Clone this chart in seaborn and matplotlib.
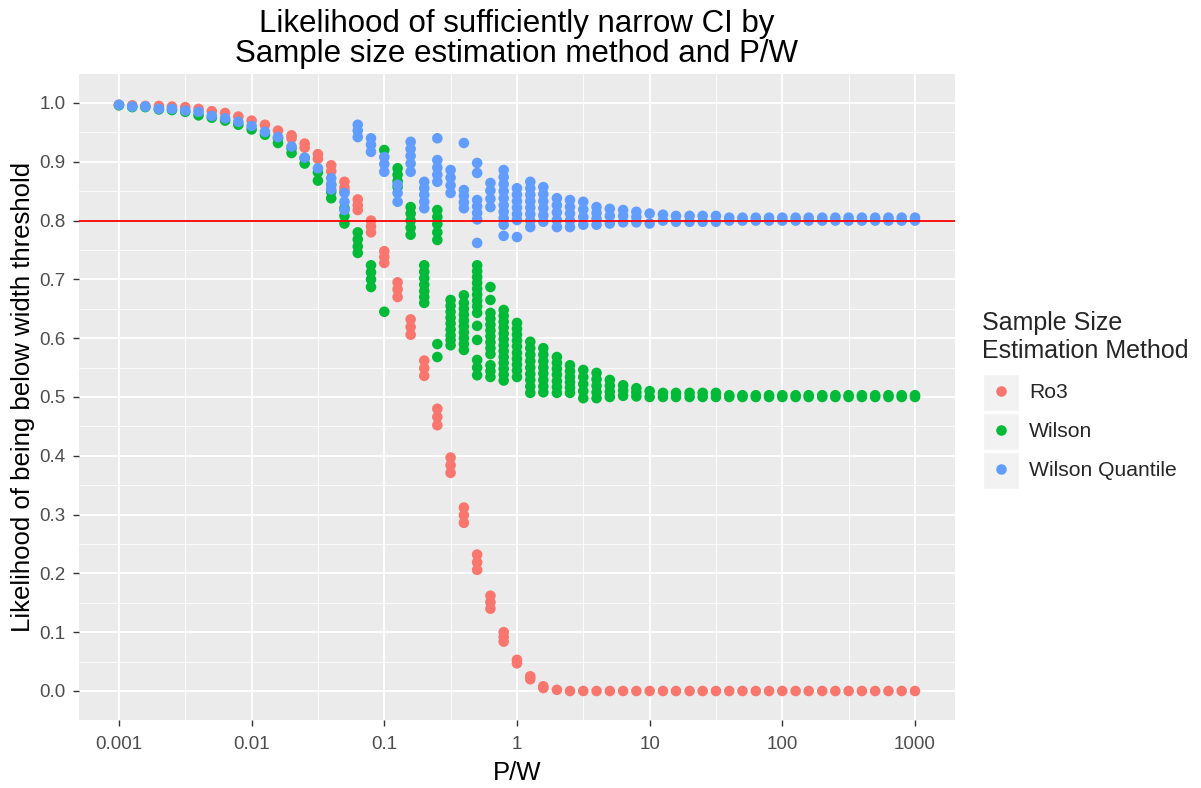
import numpy as np
import pandas as pd
import matplotlib
matplotlib.use('Agg')
import matplotlib.pyplot as plt
import seaborn as sns
from matplotlib.lines import Line2D
from matplotlib.patches import Rectangle
from matplotlib.transforms import IdentityTransform
from matplotlib.ticker import FixedLocator, NullFormatter

# P/W values where the simulation was evaluated
pw_grid = [0.001, 0.00126, 0.00158, 0.002, 0.00251, 0.00316, 0.00398, 0.00501, 0.00631, 0.00794,
           0.01, 0.0126, 0.0158, 0.02, 0.0251, 0.0316, 0.0398, 0.0501, 0.0631, 0.0794,
           0.1, 0.126, 0.158, 0.2, 0.251, 0.316, 0.398, 0.501, 0.631, 0.794,
           1, 1.26, 1.58, 2, 2.51, 3.16, 3.98, 5.01, 6.31, 7.94,
           10, 12.6, 15.8, 20, 25.1, 31.6, 39.8, 50.1, 63.1, 79.4,
           100, 126, 158, 200, 251, 316, 398, 501, 631, 794, 1000]

# likelihood values at each P/W, one list per grid point
ro3_lik = [[0.997], [0.996], [0.995], [0.995], [0.994], [0.993], [0.990], [0.986], [0.983], [0.977],
           [0.970], [0.963], [0.953], [0.945, 0.940], [0.931, 0.924], [0.913, 0.905], [0.894, 0.884],
           [0.866, 0.856, 0.850], [0.836, 0.826, 0.818], [0.800, 0.790, 0.780],
           [0.748, 0.738, 0.728], [0.695, 0.683, 0.670], [0.632, 0.619, 0.606], [0.562, 0.549, 0.536],
           [0.480, 0.466, 0.452], [0.397, 0.384, 0.371], [0.312, 0.299, 0.286], [0.232, 0.219, 0.206],
           [0.162, 0.151, 0.140], [0.100, 0.092, 0.084],
           [0.053, 0.047], [0.025, 0.020], [0.008, 0.005], [0.002]] + [[0.0]] * 27

wilson_lik = [[0.996], [0.993], [0.993], [0.989], [0.988], [0.985], [0.979], [0.975], [0.970], [0.963],
              [0.955], [0.946], [0.940, 0.932], [0.923, 0.915], [0.906, 0.897], [0.882, 0.868],
              [0.861, 0.849, 0.838], [0.821, 0.808, 0.795], [0.780, 0.768, 0.756, 0.745],
              [0.724, 0.712, 0.700, 0.687],
              [0.920, 0.645],
              [0.889, 0.878, 0.867, 0.857],
              [0.823, 0.812, 0.800, 0.788, 0.776],
              [0.724, 0.713, 0.702, 0.691, 0.680, 0.670, 0.660],
              [0.818, 0.806, 0.794, 0.780, 0.767, 0.590, 0.568],
              [0.665, 0.655, 0.645, 0.635, 0.625, 0.615, 0.605, 0.597, 0.588],
              [0.673, 0.660, 0.650, 0.640, 0.630, 0.620, 0.610, 0.600, 0.590, 0.580],
              [0.724, 0.714, 0.704, 0.694, 0.684, 0.674, 0.664, 0.654, 0.643, 0.621, 0.597, 0.563, 0.550, 0.537],
              [0.687, 0.665, 0.643, 0.633, 0.623, 0.613, 0.603, 0.593, 0.583, 0.573, 0.554, 0.544, 0.534],
              [0.648, 0.638, 0.628, 0.618, 0.608, 0.598, 0.588, 0.578, 0.568, 0.558, 0.548, 0.538, 0.528],
              [0.626, 0.616, 0.606, 0.596, 0.586, 0.575, 0.565, 0.555, 0.545, 0.534],
              [0.594, 0.583, 0.572, 0.561, 0.550, 0.539, 0.529, 0.518, 0.507],
              [0.583, 0.572, 0.561, 0.550, 0.540, 0.529, 0.518, 0.508],
              [0.568, 0.558, 0.548, 0.538, 0.527, 0.517, 0.507],
              [0.554, 0.544, 0.534, 0.525, 0.516, 0.507],
              [0.546, 0.534, 0.522, 0.510, 0.498],
              [0.541, 0.530, 0.519, 0.508, 0.498],
              [0.529, 0.519, 0.509, 0.500],
              [0.520, 0.511, 0.502],
              [0.515, 0.508, 0.501],
              [0.510, 0.500]] + [[0.507, 0.500]] * 5 + [[0.503, 0.500]] * 15

wq_lik = [[0.997], [0.994], [0.994], [0.990], [0.990], [0.987], [0.985], [0.978], [0.974], [0.968],
          [0.961], [0.951], [0.942], [0.926], [0.907], [0.889],
          [0.872, 0.861, 0.853], [0.847, 0.832, 0.818],
          [0.963, 0.953, 0.942], [0.940, 0.929, 0.917],
          [0.908, 0.896, 0.883], [0.861, 0.847, 0.832],
          [0.934, 0.922, 0.910, 0.897, 0.883],
          [0.866, 0.855, 0.844, 0.832, 0.821],
          [0.940, 0.903, 0.890, 0.878, 0.866],
          [0.886, 0.873, 0.860, 0.847],
          [0.932, 0.852, 0.842, 0.831, 0.821],
          [0.898, 0.881, 0.835, 0.824, 0.813, 0.802, 0.762],
          [0.864, 0.851, 0.837, 0.823],
          [0.886, 0.874, 0.862, 0.850, 0.838, 0.826, 0.815, 0.804, 0.793, 0.774],
          [0.855, 0.844, 0.833, 0.822, 0.811, 0.801, 0.772],
          [0.866, 0.855, 0.844, 0.833, 0.822, 0.811, 0.800, 0.789],
          [0.857, 0.845, 0.833, 0.821, 0.809, 0.798],
          [0.838, 0.826, 0.814, 0.801, 0.789],
          [0.835, 0.823, 0.812, 0.800, 0.789],
          [0.832, 0.819, 0.806, 0.793],
          [0.823, 0.813, 0.803, 0.793],
          [0.820, 0.808, 0.795],
          [0.818, 0.808, 0.797],
          [0.815, 0.806, 0.797],
          [0.812, 0.795],
          [0.810, 0.800]] + [[0.808, 0.798]] * 4 + [[0.805, 0.800]] * 15

methods = ['Ro3', 'Wilson', 'Wilson Quantile']
colors = ['#F8766D', '#00BA38', '#619CFF']
threshold = 0.8

x_breaks = [0.001, 0.01, 0.1, 1, 10, 100, 1000]
x_labels = ['0.001', '0.01', '0.1', '1', '10', '100', '1000']
x_minor = [0.000316, 0.00316, 0.0316, 0.316, 3.16, 31.6, 316]
y_breaks = [0.0, 0.1, 0.2, 0.3, 0.4, 0.5, 0.6, 0.7, 0.8, 0.9, 1.0]
y_minor = [0.05, 0.15, 0.25, 0.35, 0.45, 0.55, 0.65, 0.75, 0.85, 0.95]

rows = []
for method, liks in zip(methods, [ro3_lik, wilson_lik, wq_lik]):
    for pw, ys in zip(pw_grid, liks):
        for y in ys:
            rows.append((method, pw, y))
df = pd.DataFrame(rows, columns=['method', 'pw', 'lik'])

sns.set_theme(style='darkgrid', rc={'axes.facecolor': '#EBEBEB', 'grid.color': 'white'})
plt.rcParams['font.family'] = ['Liberation Sans', 'DejaVu Sans']

fig = plt.figure(figsize=(12.01, 7.88), dpi=100)
ax = fig.add_axes([0.0659, 0.0858, 0.7291, 0.8208])

sns.scatterplot(data=df, x='pw', y='lik', hue='method', hue_order=methods,
                palette=colors, s=58, linewidth=0, alpha=1, ax=ax, legend=False, zorder=3)
ax.axhline(threshold, color='#FF0000', lw=1.3, zorder=4)

ax.set_xscale('log')
ax.set_xlim(10 ** -3.3, 10 ** 3.3)
ax.set_ylim(-0.05, 1.05)
ax.set_xticks(x_breaks)
ax.set_xticklabels(x_labels)
ax.xaxis.set_minor_locator(FixedLocator(x_minor))
ax.xaxis.set_minor_formatter(NullFormatter())
ax.set_yticks(y_breaks)
ax.set_yticklabels([f'{v:.1f}' for v in y_breaks])
ax.yaxis.set_minor_locator(FixedLocator(y_minor))
ax.grid(which='major', color='white', lw=1.3)
ax.grid(which='minor', color='white', lw=0.6)
ax.set_axisbelow(True)
ax.tick_params(which='major', bottom=True, left=True, length=4, width=1, color='#333333',
               labelcolor='#4D4D4D', labelsize=13.5)
ax.tick_params(axis='x', which='major', pad=7)
ax.tick_params(axis='y', which='major', pad=6)
ax.tick_params(which='minor', length=0)
for s in ax.spines.values():
    s.set_visible(False)

ax.set_xlabel('P/W', fontsize=18.5, color='black', labelpad=6)
ax.set_ylabel('Likelihood of being below width threshold', fontsize=18.5, color='black', labelpad=3)
ax.set_title('Likelihood of sufficiently narrow CI by\nSample size estimation method and P/W',
             fontsize=22.5, color='black', pad=8, linespacing=1.0)

handles = [Line2D([], [], marker='o', ls='', color=c, markersize=7.6, markeredgewidth=0) for c in colors]
leg = ax.legend(handles, methods, title='Sample Size\nEstimation Method', loc='upper left',
                bbox_to_anchor=(0.818, 0.605), bbox_transform=fig.transFigure, frameon=False,
                fontsize=15.2, title_fontsize=18, alignment='left', borderpad=0, borderaxespad=0,
                handlelength=1.75, handletextpad=0.45, labelspacing=0.95)

fig.canvas.draw()
renderer = fig.canvas.get_renderer()
for h, t in zip(leg.legend_handles, leg.get_texts()):
    hb = h.get_window_extent(renderer)
    tb = t.get_window_extent(renderer)
    cx = (hb.x0 + hb.x1) / 2
    cy = (tb.y0 + tb.y1) / 2
    fig.add_artist(Rectangle((cx - 18, cy - 18.5), 36, 37, facecolor='#F2F2F2', edgecolor='white',
                             lw=1, transform=IdentityTransform(), zorder=-1))

fig.savefig('out.png', dpi=100, facecolor='white')
